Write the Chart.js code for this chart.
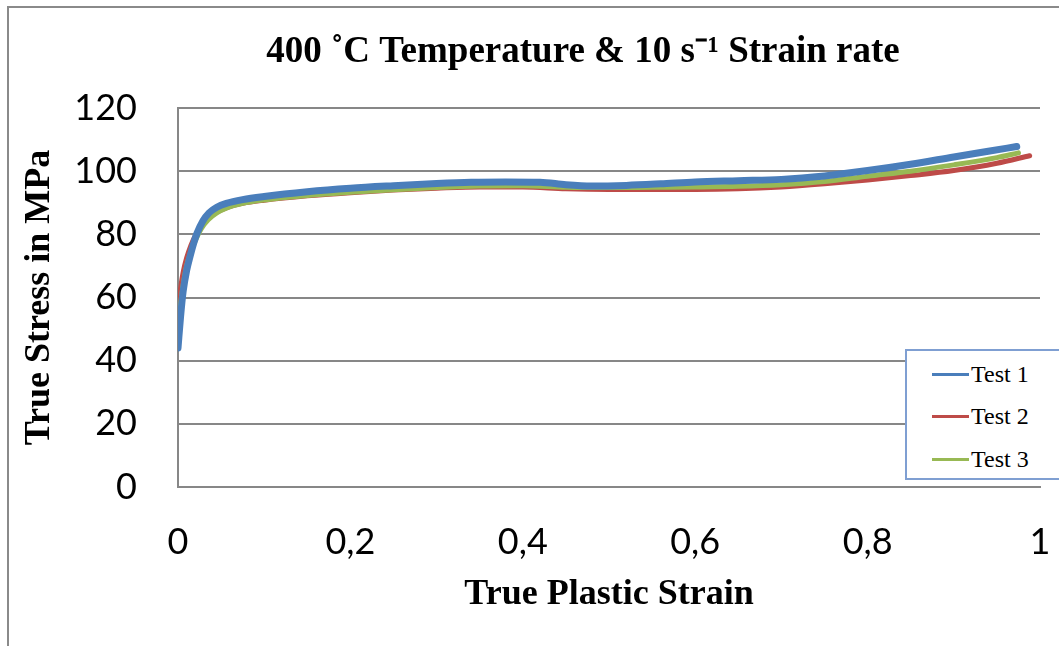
<!DOCTYPE html>
<html>
<head>
<meta charset="utf-8">
<script src="https://cdn.jsdelivr.net/npm/chart.js@4.4.1/dist/chart.umd.min.js"></script>
<style>
  html, body { margin: 0; padding: 0; background: #fff; overflow: hidden; }
  #frame { position: absolute; left: 7px; top: 6px; width: 1100px; height: 700px;
           border-top: 2px solid #8a8a8a; border-left: 2px solid #8a8a8a; }
  #wrap { position: absolute; left: 0; top: 0; width: 1059px; height: 646px; }
  #legend { position: absolute; left: 905px; top: 349px; width: 200px; height: 127px;
            border: 2px solid #7f9fd2; background: #fff;
            font-family: "Liberation Serif", "Times New Roman", serif; font-size: 24px; color: #000; }
  .item { position: absolute; left: 25px; height: 30px; display: flex; align-items: center; }
  .item i { display: inline-block; width: 37px; height: 3px; margin-right: 2px; }
</style>
</head>
<body>
<div id="frame"></div>
<div id="wrap"><canvas id="chart" width="1059" height="646"></canvas></div>
<div id="legend"></div>
<script>
// ---- data ----
const TITLE   = '400 ˚C Temperature & 10 s⁻¹ Strain rate';
const X_TITLE = 'True Plastic Strain';
const Y_TITLE = 'True Stress in MPa';

const strainT1 = [0, 0.003, 0.006, 0.01, 0.014, 0.018, 0.022, 0.029, 0.036, 0.045, 0.056, 0.075, 0.1, 0.15, 0.2,
                  0.25, 0.3, 0.34, 0.38, 0.42, 0.45, 0.48, 0.52, 0.56, 0.6, 0.65, 0.7, 0.75, 0.8, 0.85, 0.9, 0.94, 0.973];
const stressT1 = [44, 54, 62, 68.5, 73, 77, 80.3, 84.3, 86.8, 88.6, 89.8, 91, 92, 93.5, 94.6,
                  95.4, 96.1, 96.5, 96.6, 96.5, 95.7, 95.3, 95.5, 96, 96.6, 97, 97.4, 98.5, 100.2, 102.2, 104.5, 106.3, 107.8];

const strainT2 = [0, 0.003, 0.006, 0.01, 0.015, 0.02, 0.027, 0.035, 0.045, 0.056, 0.075, 0.1, 0.15, 0.2, 0.25,
                  0.3, 0.35, 0.4, 0.45, 0.5, 0.55, 0.6, 0.65, 0.7, 0.75, 0.8, 0.85, 0.9, 0.95, 0.988];
const stressT2 = [56, 63, 68, 72.5, 76.5, 79.5, 82.5, 85, 87, 88.4, 89.8, 90.8, 92.2, 93.2, 94,
                  94.6, 95, 95, 94.4, 94.2, 94.2, 94.2, 94.4, 95, 96, 97.2, 98.6, 100.2, 102.5, 104.9];

const strainT3 = [0, 0.003, 0.006, 0.01, 0.015, 0.02, 0.027, 0.035, 0.045, 0.056, 0.075, 0.1, 0.15, 0.2, 0.25,
                  0.3, 0.35, 0.4, 0.45, 0.5, 0.55, 0.6, 0.65, 0.7, 0.75, 0.8, 0.85, 0.9, 0.95, 0.975];
const stressT3 = [50, 58, 64, 70, 74.5, 78, 81.8, 84.6, 86.8, 88.3, 89.8, 90.9, 92.3, 93.3, 94.1,
                  94.8, 95.3, 95.4, 94.9, 94.8, 94.9, 95, 95.2, 95.7, 96.7, 98.4, 100, 102, 104.3, 105.8];

const SERIES = [
  { label: 'Test 1', x: strainT1, y: stressT1, color: '#4a7ebb', width: 7, order: 0 },
  { label: 'Test 2', x: strainT2, y: stressT2, color: '#be4b48', width: 5, order: 2 },
  { label: 'Test 3', x: strainT3, y: stressT3, color: '#98b954', width: 5, order: 1 },
];

const GRID = '#878787';
const TICK_FONT  = { family: 'Lato, "Open Sans", sans-serif', size: 36 };
const TITLE_FONT = '"Liberation Serif", "Times New Roman", serif';

// title drawn over the plot, centred like the original
const titlePlugin = {
  id: 'topTitle',
  afterDraw(chart) {
    const ctx = chart.ctx;
    ctx.save();
    ctx.font = 'bold 37px ' + TITLE_FONT;
    ctx.fillStyle = '#000';
    ctx.textAlign = 'center';
    ctx.textBaseline = 'middle';
    ctx.fillText(TITLE, 583, 52);
    ctx.restore();
  }
};

new Chart(document.getElementById('chart'), {
  type: 'line',
  data: {
    datasets: SERIES.map(s => ({
      label: s.label,
      order: s.order,
      data: s.x.map((v, i) => ({ x: v, y: s.y[i] })),
      borderColor: s.color,
      backgroundColor: s.color,
      borderWidth: s.width,
      borderCapStyle: 'round',
      borderJoinStyle: 'round',
      pointRadius: 0,
      cubicInterpolationMode: 'monotone',
      fill: false,
    })),
  },
  options: {
    responsive: false,
    animation: false,
    layout: { padding: { top: 108, right: 19, left: 0, bottom: 0 } },
    plugins: { legend: { display: false }, title: { display: false }, tooltip: { enabled: false } },
    scales: {
      x: {
        type: 'linear', min: 0, max: 1,
        afterFit: s => { s.height = 159; s.paddingLeft = 0; s.paddingRight = 0; },
        ticks: { stepSize: 0.2, padding: 34, color: '#000', font: TICK_FONT, maxRotation: 0,
                 callback: v => String(Math.round(v * 10) / 10).replace('.', ',') },
        grid: { display: false, drawTicks: false },
        border: { display: true, color: GRID, width: 2 },
        title: { display: true, text: X_TITLE, color: '#000', padding: { top: 0, bottom: 30 },
                 font: { family: TITLE_FONT, size: 36, weight: 'bold' } },
      },
      y: {
        min: 0, max: 120,
        afterFit: s => { s.width = 178; s.paddingTop = 0; s.paddingBottom = 0; },
        ticks: { stepSize: 20, padding: 41, color: '#000', font: TICK_FONT },
        grid: { color: GRID, lineWidth: 2, drawTicks: false },
        border: { display: true, color: GRID, width: 2 },
        title: { display: true, text: Y_TITLE, color: '#000', padding: { top: 18, bottom: 0 },
                 font: { family: TITLE_FONT, size: 36, weight: 'bold' } },
      },
    },
  },
  plugins: [titlePlugin],
});

// legend box inside the plot, bottom right
const leg = document.getElementById('legend');
const rowTops = [8, 50, 93];
SERIES.forEach((s, i) => {
  const d = document.createElement('div');
  d.className = 'item';
  d.style.top = rowTops[i] + 'px';
  d.innerHTML = `<i style="background:${s.color}"></i><span>${s.label}</span>`;
  leg.appendChild(d);
});
</script>
</body>
</html>
